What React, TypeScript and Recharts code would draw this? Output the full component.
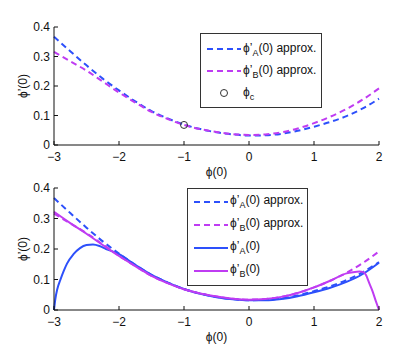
import { Legend, Line, LineChart, ReferenceDot, XAxis, YAxis } from 'recharts'

const BLUE = '#2d50fb'
const MAGENTA = '#bf3cf2'
const FONT = '"Liberation Sans", Arial, Helvetica, sans-serif'

// phi(0) grid used by the approximations
const phiGrid = [
  -3, -2.75, -2.5, -2.25, -2, -1.75, -1.5, -1.25, -1, -0.75, -0.5, -0.25, 0, 0.25, 0.5, 0.75, 1, 1.25,
  1.5, 1.75, 2,
]
const approxA = [
  0.367, 0.318, 0.27, 0.225, 0.185, 0.148, 0.115, 0.09, 0.069, 0.054, 0.043, 0.036, 0.032, 0.033,
  0.038, 0.048, 0.062, 0.078, 0.098, 0.124, 0.157,
]
const approxB = [
  0.316, 0.284, 0.252, 0.215, 0.178, 0.144, 0.112, 0.088, 0.068, 0.054, 0.044, 0.037, 0.034, 0.036,
  0.043, 0.056, 0.074, 0.096, 0.122, 0.154, 0.192,
]

// exact solutions (bottom panel)
const phiA = [
  -3, -2.98, -2.95, -2.9, -2.85, -2.8, -2.7, -2.6, -2.5, -2.4, -2.3, -2.2, -2.1, -2, -1.75, -1.5,
  -1.25, -1, -0.75, -0.5, -0.25, 0, 0.25, 0.5, 0.75, 1, 1.25, 1.5, 1.75, 2,
]
const exactA = [
  0, 0.035, 0.068, 0.1, 0.128, 0.152, 0.183, 0.203, 0.213, 0.215, 0.21, 0.2, 0.192, 0.183, 0.148,
  0.115, 0.09, 0.069, 0.053, 0.042, 0.035, 0.032, 0.032, 0.036, 0.045, 0.058, 0.073, 0.092, 0.118,
  0.155,
]
const phiB = [
  -3, -2.75, -2.5, -2.25, -2, -1.75, -1.5, -1.25, -1, -0.75, -0.5, -0.25, 0, 0.25, 0.5, 0.75, 1,
  1.25, 1.5, 1.6, 1.7, 1.75, 1.8, 1.85, 1.9, 1.95, 1.98, 2,
]
const exactB = [
  0.322, 0.285, 0.25, 0.213, 0.177, 0.144, 0.112, 0.088, 0.068, 0.054, 0.044, 0.037, 0.034, 0.036,
  0.043, 0.056, 0.074, 0.096, 0.12, 0.124, 0.126, 0.125, 0.115, 0.088, 0.062, 0.03, 0.012, 0,
]

const phiC = [{ x: -1, y: 0.068 }]

const xTicks = [-3, -2, -1, 0, 1, 2]
const yTicks = [0, 0.1, 0.2, 0.3, 0.4]

const toRows = (xs: number[], ys: number[]) => xs.map((x, i) => ({ x, y: ys[i] }))

const tickStyle = { fill: '#111', fontSize: 12, fontFamily: FONT }

const fmtX = (v: number) => (v < 0 ? `\u2212${Math.abs(v)}` : `${v}`)
const fmtY = (v: number) => (v === 0 ? '0' : v.toFixed(1))

type Entry = { sub: string; suffix: string; color: string; kind: 'dash' | 'solid' | 'circle' }

const topLegend: Entry[] = [
  { sub: 'A', suffix: '(0) approx.', color: BLUE, kind: 'dash' },
  { sub: 'B', suffix: '(0) approx.', color: MAGENTA, kind: 'dash' },
  { sub: 'c', suffix: '', color: '#333', kind: 'circle' },
]
const bottomLegend: Entry[] = [
  { sub: 'A', suffix: '(0) approx.', color: BLUE, kind: 'dash' },
  { sub: 'B', suffix: '(0) approx.', color: MAGENTA, kind: 'dash' },
  { sub: 'A', suffix: '(0)', color: BLUE, kind: 'solid' },
  { sub: 'B', suffix: '(0)', color: MAGENTA, kind: 'solid' },
]

function LegendBox({ items, rowH, padTop }: { items: Entry[]; rowH: number; padTop: number }) {
  return (
    <div
      style={{
        border: '1px solid #333',
        background: '#fff',
        boxSizing: 'border-box',
        width: '100%',
        height: '100%',
        padding: `${padTop}px 0 0 6px`,
        fontFamily: FONT,
        fontSize: 12,
        color: '#111',
      }}
    >
      {items.map((it, i) => (
        <div key={i} style={{ display: 'flex', alignItems: 'center', height: rowH }}>
          <svg width={34} height={10} style={{ marginRight: 2 }}>
            {it.kind === 'circle' ? (
              <circle cx={17} cy={5} r={3.5} fill="none" stroke={it.color} strokeWidth={1} />
            ) : (
              <line
                x1={0}
                y1={5}
                x2={34}
                y2={5}
                stroke={it.color}
                strokeWidth={2}
                strokeDasharray={it.kind === 'dash' ? '6 4' : undefined}
              />
            )}
          </svg>
          <span style={{ whiteSpace: 'nowrap' }}>
            {it.kind === 'circle' ? '\u03d5' : '\u03d5\u2019'}
            <sub style={{ fontSize: 9, verticalAlign: -4 }}>{it.sub}</sub>
            {it.suffix}
          </span>
        </div>
      ))}
    </div>
  )
}

// rotated y label, centred on the plot height, ~23px from the left edge
function YLabel(props: any) {
  const vb = props.viewBox || {}
  const cx = 23
  const cy = (vb.y ?? 0) + (vb.height ?? 0) / 2
  return (
    <text
      x={cx}
      y={cy}
      transform={`rotate(-90, ${cx}, ${cy})`}
      textAnchor="middle"
      dominantBaseline="central"
      fill="#111"
      fontSize={12}
      fontFamily={FONT}
    >
      {'\u03d5\u2019(0)'}
    </text>
  )
}

function Axes({ xHeight, labelOffset }: { xHeight: number; labelOffset: number }) {
  return [
    <XAxis
      key="xb"
      dataKey="x"
      type="number"
      domain={[-3, 2]}
      ticks={xTicks}
      allowDuplicatedCategory={false}
      tickFormatter={fmtX}
      tick={tickStyle}
      tickSize={-4}
      tickMargin={11}
      stroke="#111"
      height={xHeight}
      label={{
        value: '\u03d5(0)',
        position: 'insideBottom',
        offset: labelOffset,
        fill: '#111',
        fontSize: 12,
        fontFamily: FONT,
      }}
    />,
    <XAxis
      key="xt"
      xAxisId="top"
      orientation="top"
      type="number"
      domain={[-3, 2]}
      ticks={xTicks}
      tick={() => null}
      tickSize={-4}
      stroke="#111"
      height={0}
    />,
    <YAxis
      key="yl"
      type="number"
      domain={[0, 0.4]}
      ticks={yTicks}
      tickFormatter={fmtY}
      tick={tickStyle}
      tickSize={-4}
      tickMargin={8}
      stroke="#111"
      width={54}
      label={{ content: YLabel }}
    />,
    <YAxis
      key="yr"
      yAxisId="right"
      orientation="right"
      type="number"
      domain={[0, 0.4]}
      ticks={yTicks}
      tick={() => null}
      tickSize={-4}
      stroke="#111"
      width={0}
    />,
  ]
}

export default function App() {
  const rowsA = toRows(phiGrid, approxA)
  const rowsB = toRows(phiGrid, approxB)
  const rowsExA = toRows(phiA, exactA)
  const rowsExB = toRows(phiB, exactB)

  return (
    <div style={{ position: 'absolute', left: 0, top: 0, width: 419, height: 349, background: '#fff' }}>
      <div style={{ position: 'absolute', left: 0, top: 0 }}>
        <LineChart width={419} height={182} margin={{ top: 27, right: 40, left: 0, bottom: 0 }}>
          {Axes({ xHeight: 37, labelOffset: 6 })}
          <Line
            data={rowsA}
            dataKey="y"
            type="monotone"
            stroke={BLUE}
            strokeWidth={2}
            strokeDasharray="6 4"
            dot={false}
            isAnimationActive={false}
          />
          <Line
            data={rowsB}
            dataKey="y"
            type="monotone"
            stroke={MAGENTA}
            strokeWidth={2}
            strokeDasharray="6 4"
            dot={false}
            isAnimationActive={false}
          />
          {phiC.map((p, i) => (
            <ReferenceDot key={i} x={p.x} y={p.y} r={3.5} fill="none" stroke="#333" strokeWidth={1} />
          ))}
          <Legend
            layout="horizontal"
            verticalAlign="middle"
            align="center"
            wrapperStyle={{ left: 200, top: 33, width: 122, height: 75 }}
            content={() => <LegendBox items={topLegend} rowH={22} padTop={4} />}
          />
        </LineChart>
      </div>
      <div style={{ position: 'absolute', left: 0, top: 175 }}>
        <LineChart width={419} height={174} margin={{ top: 13, right: 40, left: 0, bottom: 0 }}>
          {Axes({ xHeight: 39, labelOffset: 8 })}
          <Line
            data={rowsA}
            dataKey="y"
            type="monotone"
            stroke={BLUE}
            strokeWidth={2}
            strokeDasharray="6 4"
            dot={false}
            isAnimationActive={false}
          />
          <Line
            data={rowsB}
            dataKey="y"
            type="monotone"
            stroke={MAGENTA}
            strokeWidth={2}
            strokeDasharray="6 4"
            dot={false}
            isAnimationActive={false}
          />
          <Line
            data={rowsExA}
            dataKey="y"
            type="monotone"
            stroke={BLUE}
            strokeWidth={2}
            dot={false}
            isAnimationActive={false}
          />
          <Line
            data={rowsExB}
            dataKey="y"
            type="monotone"
            stroke={MAGENTA}
            strokeWidth={2}
            dot={false}
            isAnimationActive={false}
          />
          <Legend
            layout="horizontal"
            verticalAlign="middle"
            align="center"
            wrapperStyle={{ left: 187, top: 13, width: 121, height: 98 }}
            content={() => <LegendBox items={bottomLegend} rowH={23} padTop={1} />}
          />
        </LineChart>
      </div>
    </div>
  )
}
